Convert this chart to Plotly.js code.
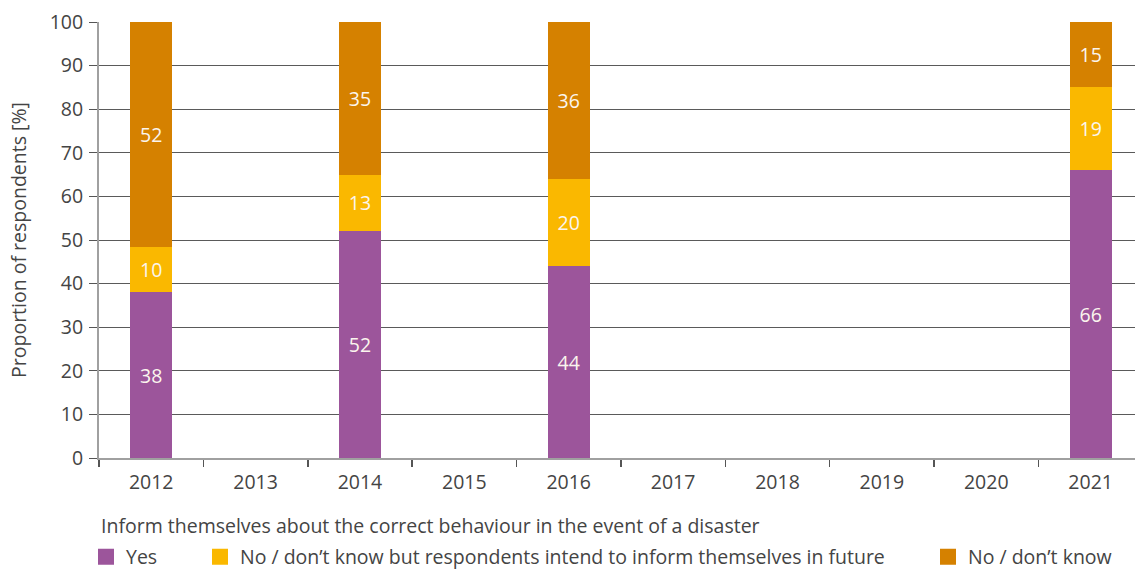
<!DOCTYPE html>
<html><head><meta charset="utf-8">
<script src="https://cdn.plot.ly/plotly-3.0.1.min.js"></script>
<style>html,body{margin:0;padding:0;background:#fff}#chart{width:1135px;height:570px}</style>
</head><body><div id="chart"></div>
<script>
const years = ['2012','2013','2014','2015','2016','2017','2018','2019','2020','2021'];
const yesValues = [38, null, 52, null, 44, null, null, null, null, 66];
const intendValues = [10.4, null, 13, null, 20, null, null, null, null, 19];
const dontKnowValues = [51.6, null, 35, null, 36, null, null, null, null, 15];
const seriesNames = ['Yes', 'No / don\u2019t know but respondents intend to inform themselves in future', 'No / don\u2019t know'];
const legendTitle = 'Inform themselves about the correct behaviour in the event of a disaster';
const yAxisTitle = 'Proportion of respondents [%]';
const yTickValues = [0,10,20,30,40,50,60,70,80,90,100];

const colors = ['#9c559b', '#fab800', '#d58100'];
const FONT = 'Open Sans, Noto Sans, sans-serif';
const FS = 19.5;
const TXT = '#444444';

const seriesValues = [yesValues, intendValues, dontKnowValues];
const legendIds = ['legend', 'legend2', 'legend3'];

const traces = [];
seriesValues.forEach((vals, i) => {
  traces.push({
    type: 'bar', x: years, y: vals, name: seriesNames[i], showlegend: false,
    marker: {color: colors[i], line: {width: 0}},
    width: 0.4,
    text: vals.map(v => v === null ? '' : String(Math.round(v))),
    textposition: 'inside', insidetextanchor: 'middle',
    textfont: {family: FONT, size: FS, color: '#fbf5ee'},
    hoverinfo: 'skip'
  });
});
seriesValues.forEach((vals, i) => {
  traces.push({
    type: 'scatter', mode: 'markers', x: [null], y: [null], name: seriesNames[i],
    legend: legendIds[i], showlegend: true,
    marker: {symbol: 'square', size: 16, color: colors[i]}
  });
});

const legendBase = {
  orientation: 'h', xref: 'container', yref: 'container', yanchor: 'middle', xanchor: 'left',
  font: {family: FONT, size: FS, color: TXT}, bgcolor: 'rgba(0,0,0,0)', borderwidth: 0,
  itemsizing: 'trace', itemclick: false, itemdoubleclick: false
};

const layout = {
  width: 1135, height: 570,
  margin: {l: 99, r: 0, t: 22, b: 112},
  paper_bgcolor: '#ffffff', plot_bgcolor: '#ffffff',
  barmode: 'stack',
  font: {family: FONT, size: FS, color: TXT},
  xaxis: {
    type: 'category', range: [-0.5, 9.425],
    tickson: 'boundaries', ticks: 'outside', ticklen: 7, tickwidth: 1.5, tickcolor: '#555555',
    ticklabelstandoff: 6,
    showgrid: false, showline: true, linecolor: '#a0a0a0', linewidth: 2,
    tickfont: {family: FONT, size: FS, color: TXT}, fixedrange: true, zeroline: false
  },
  yaxis: {
    range: [0, 100], tickvals: yTickValues, ticks: 'outside', ticklen: 8, tickcolor: '#555555', tickwidth: 1,
    ticklabelstandoff: 2,
    showgrid: true, gridcolor: '#5a5a5a', gridwidth: 1,
    showline: true, linecolor: '#a0a0a0', linewidth: 2, zeroline: false,
    tickfont: {family: FONT, size: FS, color: TXT},
    title: {text: yAxisTitle, font: {family: FONT, size: FS, color: TXT}, standoff: 18},
    fixedrange: true
  },
  legend: Object.assign({}, legendBase, {x: 86/1135, y: 1 - 557/570}),
  legend2: Object.assign({}, legendBase, {x: 200/1135, y: 1 - 557/570}),
  legend3: Object.assign({}, legendBase, {x: 928/1135, y: 1 - 557/570}),
  annotations: [{
    text: legendTitle, xref: 'paper', yref: 'paper', x: 0, y: (458 - 525) / 436,
    xanchor: 'left', yanchor: 'middle', showarrow: false,
    font: {family: FONT, size: FS, color: TXT}
  }],
  uniformtext: {mode: false}
};

Plotly.newPlot('chart', traces, layout, {displayModeBar: false, staticPlot: true});
</script>
</body></html>
